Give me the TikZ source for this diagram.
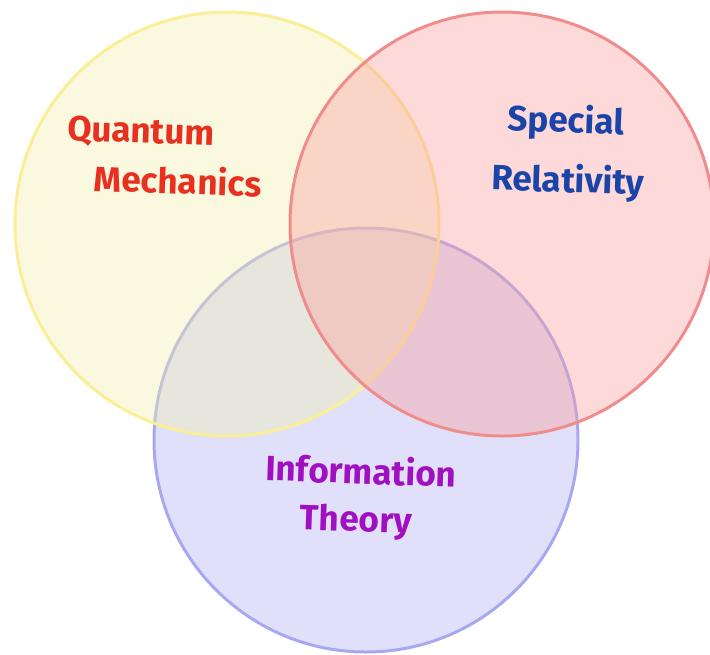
\documentclass[tikz,border=0pt]{standalone}
\usepackage{fontspec}
\setmainfont{Fira Sans}
\definecolor{yfill}{RGB}{242,240,175}
\definecolor{rfill}{RGB}{250,160,160}
\definecolor{bfill}{RGB}{177,177,242}
\definecolor{ydraw}{RGB}{250,238,150}
\definecolor{rdraw}{RGB}{240,140,140}
\definecolor{bdraw}{RGB}{168,168,240}
\definecolor{qmtext}{RGB}{232,48,32}
\definecolor{srtext}{RGB}{26,68,168}
\definecolor{ittext}{RGB}{160,16,192}
\begin{document}
\begin{tikzpicture}[x=0.02cm,y=-0.02cm,
  venn/.style={circle,minimum size=424*0.02cm,inner sep=0pt,line width=1.7pt,fill opacity=0.4,draw opacity=1},
  hand/.style={font=\fontsize{20}{24}\selectfont\bfseries,inner sep=0pt}]
\useasboundingbox (0,0) rectangle (710,654);
\node[venn,fill=bfill,draw=bdraw] (it) at (366,440) {};
\node[venn,fill=yfill,draw=ydraw] (qm) at (227,224) {};
\node[venn,fill=rfill,draw=rdraw] (sr) at (502,224) {};
\node[hand,text=qmtext,rotate=-2] (q1) at (141,133) {Quantum};
\node[hand,text=qmtext,rotate=-2] (q2) at (178,180) {Mechanics};
\node[hand,text=srtext,rotate=-2] (s1) at (566,122) {Special};
\node[hand,text=srtext,rotate=-2] (s2) at (568,182) {Relativity};
\node[hand,text=ittext,rotate=-2] (i1) at (361,470) {Information};
\node[hand,text=ittext,rotate=-2] (i2) at (356,522) {Theory};
\end{tikzpicture}
\end{document}
